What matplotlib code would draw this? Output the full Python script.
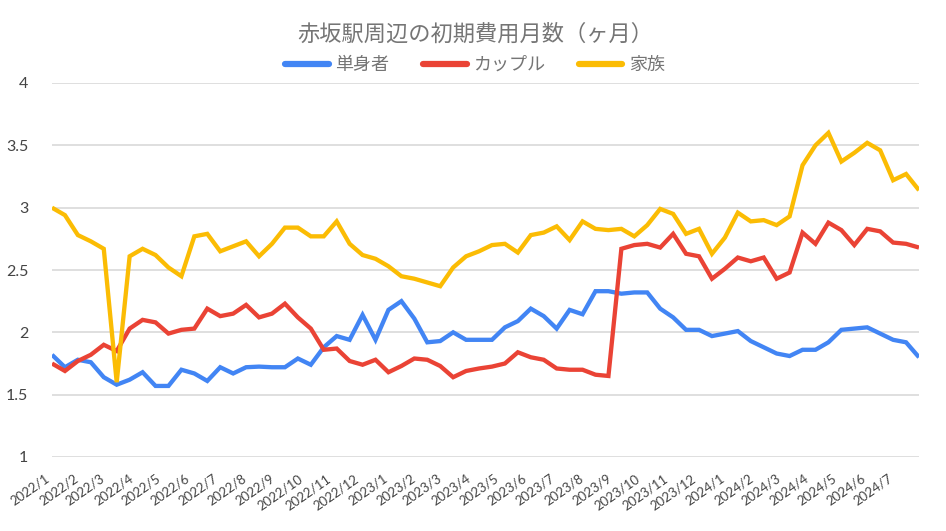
import matplotlib
matplotlib.use("Agg")
import matplotlib.pyplot as plt
import pandas as pd

# ---- data ----
dates = pd.date_range("2022-01-01", periods=68, freq="14D")

single = [1.82, 1.72, 1.78, 1.76, 1.64, 1.58, 1.62, 1.68, 1.57, 1.57,
          1.70, 1.67, 1.61, 1.72, 1.67, 1.72, 1.725, 1.72, 1.72, 1.79,
          1.74, 1.88, 1.97, 1.94, 2.14, 1.94, 2.18, 2.25, 2.11, 1.92,
          1.93, 2.00, 1.94, 1.94, 1.94, 2.04, 2.09, 2.19, 2.13, 2.03,
          2.18, 2.145, 2.33, 2.33, 2.31, 2.32, 2.32, 2.19, 2.12, 2.02,
          2.02, 1.97, 1.99, 2.01, 1.93, 1.88, 1.83, 1.81, 1.86, 1.86,
          1.92, 2.02, 2.03, 2.04, 1.99, 1.94, 1.92, 1.80]

couple = [1.75, 1.69, 1.77, 1.82, 1.90, 1.85, 2.03, 2.10, 2.08, 1.99,
          2.02, 2.03, 2.19, 2.13, 2.15, 2.22, 2.12, 2.15, 2.23, 2.12,
          2.03, 1.86, 1.87, 1.77, 1.74, 1.78, 1.68, 1.73, 1.79, 1.78,
          1.73, 1.64, 1.69, 1.71, 1.725, 1.75, 1.84, 1.80, 1.78, 1.71,
          1.70, 1.70, 1.66, 1.65, 2.67, 2.70, 2.71, 2.68, 2.79, 2.63,
          2.61, 2.43, 2.51, 2.60, 2.57, 2.60, 2.43, 2.48, 2.80, 2.71,
          2.88, 2.82, 2.70, 2.83, 2.81, 2.72, 2.71, 2.68]

family = [3.00, 2.94, 2.78, 2.73, 2.67, 1.60, 2.61, 2.67, 2.62, 2.52,
          2.45, 2.77, 2.79, 2.65, 2.69, 2.73, 2.61, 2.71, 2.84, 2.84,
          2.77, 2.77, 2.89, 2.71, 2.62, 2.59, 2.53, 2.45, 2.43, 2.40,
          2.37, 2.52, 2.61, 2.65, 2.70, 2.71, 2.64, 2.78, 2.80, 2.85,
          2.74, 2.89, 2.83, 2.82, 2.83, 2.77, 2.86, 2.99, 2.95, 2.79,
          2.83, 2.63, 2.76, 2.96, 2.89, 2.90, 2.86, 2.93, 3.34, 3.50,
          3.60, 3.37, 3.44, 3.52, 3.46, 3.22, 3.27, 3.14]

series_names = ["単身者", "カップル", "家族"]
series_colors = ["#4285F4", "#EA4335", "#FBBC04"]

tick_dates = pd.date_range("2022-01-01", "2024-07-01", freq="MS")
tick_labels = [f"{d.year}/{d.month}" for d in tick_dates]
y_ticks = [1, 1.5, 2, 2.5, 3, 3.5, 4]
y_tick_labels = ["1", "1.5", "2", "2.5", "3", "3.5", "4"]

title = "赤坂駅周辺の初期費用月数（ヶ月）"

# ---- figure ----
W, H = 946, 531
fig = plt.figure(figsize=(W / 100, H / 100), dpi=100)
ax = fig.add_axes([52 / W, 1 - 457 / H, (919 - 52) / W, (457 - 83) / H])

lat = ["Lato", "Noto Sans CJK JP", "DejaVu Sans"]
cjk = ["Noto Sans CJK JP", "DejaVu Sans"]

for vals, name, col in zip([single, couple, family], series_names, series_colors):
    ax.plot(dates, vals, color=col, lw=3.1, label=name,
            solid_joinstyle="miter", solid_capstyle="butt", zorder=3)

ax.set_ylim(1, 4)
ax.set_xlim(dates[0], dates[-1])
ax.set_yticks(y_ticks)
ax.set_yticklabels(y_tick_labels, fontfamily=lat, fontsize=11.5, color="#444444")
ax.set_xticks(tick_dates)
ax.set_xticklabels(tick_labels, rotation=35, ha="right", va="top",
                   fontfamily=lat, fontsize=9.5, color="#444444")
ax.tick_params(axis="both", length=0)
ax.tick_params(axis="y", pad=17)
ax.tick_params(axis="x", pad=11)
ax.grid(axis="y", color="#d9d9d9", lw=1.2, zorder=0)
ax.grid(axis="x", visible=False)
for s in ax.spines.values():
    s.set_visible(False)

fig.text(475 / W, 1 - 34 / H, title, ha="center", va="center",
         fontfamily=cjk, fontsize=16, color="#757575")

leg = fig.legend(loc="center", bbox_to_anchor=(475 / W, 1 - 65 / H), ncol=3,
                 frameon=False, prop={"family": cjk, "size": 13},
                 handlelength=2.4, handletextpad=0.35, columnspacing=1.9,
                 borderaxespad=0, borderpad=0)
for t in leg.get_texts():
    t.set_color("#757575")
for h in leg.get_lines():
    h.set_linewidth(4.5)
    h.set_solid_capstyle("round")

fig.savefig("out.png", dpi=100)
